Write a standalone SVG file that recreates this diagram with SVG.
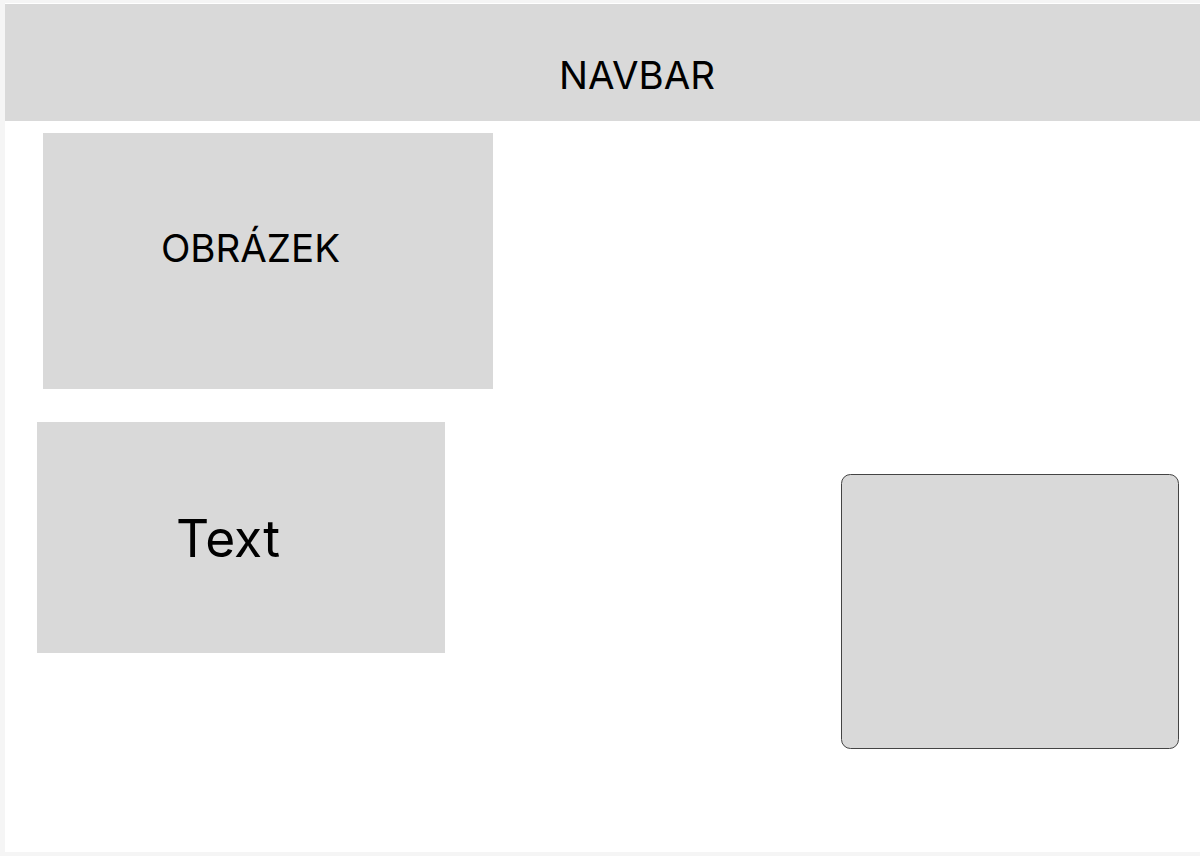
<svg xmlns="http://www.w3.org/2000/svg" width="1200" height="856" viewBox="0 0 1200 856">
<style>
.box{fill:#d9d9d9}
.lbl{font-family:Inter,"Noto Sans",sans-serif;fill:#000;text-anchor:middle}
</style>
<rect x="0" y="0" width="1200" height="856" fill="#f5f5f5"/>
<rect x="5" y="3" width="1195" height="849" fill="#ffffff"/>
<g id="navbar">
<rect class="box" x="5" y="4" width="1195" height="117"/>
<text class="lbl" x="637" y="89" font-size="38.5">NAVBAR</text>
</g>
<g id="obrazek">
<rect class="box" x="43" y="133" width="450" height="256"/>
<text class="lbl" x="250.5" y="262" font-size="38.5">OBRÁZEK</text>
</g>
<g id="text">
<rect class="box" x="37" y="422" width="408" height="231"/>
<text class="lbl" x="228" y="557" font-size="51.5">Text</text>
</g>
<g id="panel">
<rect class="box" x="841.5" y="474.5" width="337" height="274" rx="9" stroke="#444" stroke-width="1"/>
</g>
<g id="connectors"/>
</svg>
